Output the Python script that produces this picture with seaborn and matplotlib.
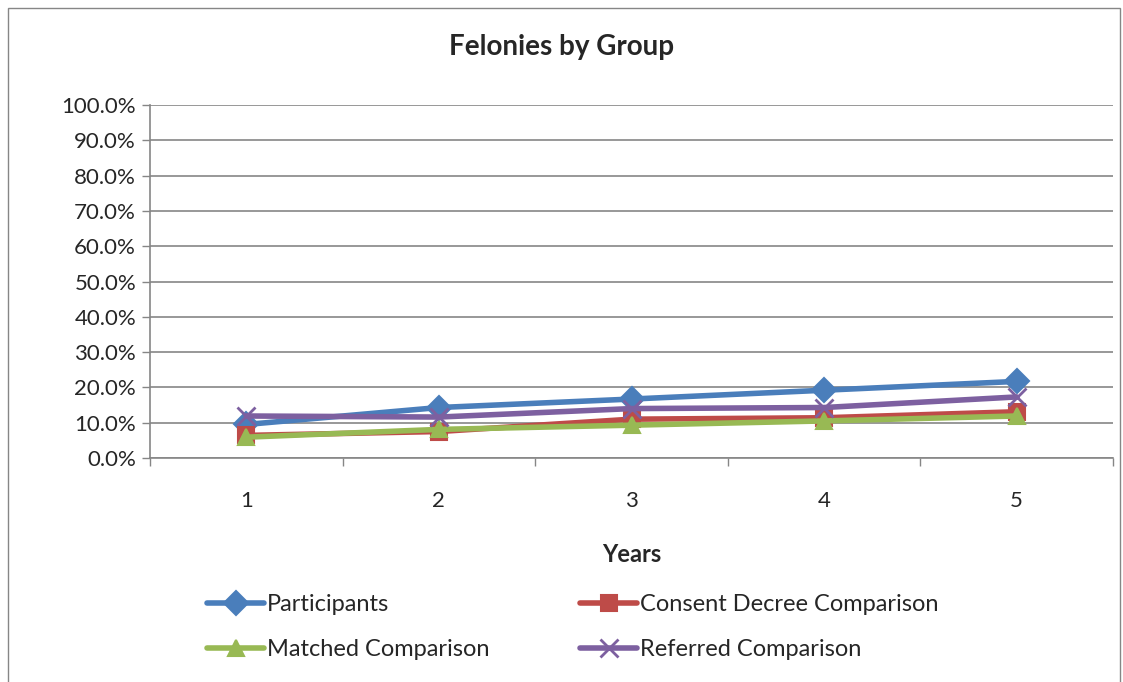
import matplotlib
matplotlib.use("Agg")
import matplotlib.pyplot as plt
import seaborn as sns
import pandas as pd
from matplotlib.patches import Rectangle
from matplotlib.lines import Line2D

years = [1, 2, 3, 4, 5]
participants = [0.095, 0.143, 0.167, 0.192, 0.217]
consent = [0.064, 0.075, 0.110, 0.114, 0.131]
matched = [0.059, 0.081, 0.093, 0.105, 0.119]
referred = [0.119, 0.116, 0.140, 0.143, 0.173]
series_names = ["Participants", "Consent Decree Comparison", "Matched Comparison", "Referred Comparison"]
colors = ["#4A7EBB", "#BE4B48", "#98B954", "#7D60A0"]
markers = ["D", "s", "^", "x"]
yticks = [i / 10 for i in range(11)]

sns.set_theme(style="white")
plt.rcParams['font.family'] = ['Lato', 'DejaVu Sans']

fig = plt.figure(figsize=(11.23, 6.82), dpi=100)
ax = fig.add_axes([150 / 1123, 1 - 458 / 682, (1113 - 150) / 1123, (458 - 105) / 682])

for name, vals, c, m in zip(series_names, [participants, consent, matched, referred], colors, markers):
    d = pd.DataFrame({"pos": list(range(len(years))), "value": vals})
    is_x = (m == "x")
    sns.lineplot(data=d, x="pos", y="value", color=c, marker=m, linewidth=4,
                 markersize=13 if is_x else 12, markeredgewidth=2 if is_x else 1.5,
                 markeredgecolor=c, ax=ax, legend=False)

ax.set_xlim(-0.5, 4.5)
ax.set_ylim(0, 1.0)
ax.set_yticks(yticks)
ax.set_yticklabels([f"{t*100:.1f}%" for t in yticks], fontsize=16)
ax.set_xticks(range(5))
ax.set_xticklabels([str(y) for y in years], fontsize=16)
ax.set_xticks([i - 0.5 for i in range(6)], minor=True)
ax.tick_params(axis="x", which="major", length=0, pad=24)
ax.tick_params(axis="x", which="minor", length=6, color="#868686", width=1, direction="out", bottom=True)
ax.tick_params(axis="y", which="major", length=6, color="#868686", width=1, direction="out", left=True, pad=4)
ax.grid(axis="y", color="#868686", linewidth=1.2)
ax.set_axisbelow(True)
for s in ["top", "right"]:
    ax.spines[s].set_visible(False)
for s in ["left", "bottom"]:
    ax.spines[s].set_color("#868686")
    ax.spines[s].set_linewidth(1.2)
ax.set_xlabel("Years", fontsize=17, fontweight="bold", labelpad=23)
ax.set_ylabel("")
fig.text(0.5, 1 - 47 / 682, "Felonies by Group", ha="center", va="center", fontsize=20, fontweight="bold")

handles = [Line2D([0], [0], color=c, marker=m, linewidth=4, markersize=12 if m != "x" else 13,
                  markeredgewidth=2 if m == "x" else 1.5, markeredgecolor=c) for c, m in zip(colors, markers)]
order = [0, 2, 1, 3]
leg = fig.legend([handles[i] for i in order], [series_names[i] for i in order],
                 ncol=2, loc="center left", bbox_to_anchor=(186 / 1123, 1 - 627 / 682),
                 frameon=False, fontsize=17, handlelength=2.4, handletextpad=0.13,
                 columnspacing=3.85, labelspacing=1.0)

fig.patches.append(Rectangle((8 / 1123, -0.01), (1120 - 8) / 1123, 1 - 8 / 682 + 0.01,
                             transform=fig.transFigure, fill=False, edgecolor="#868686", linewidth=1))
fig.savefig("out.png", dpi=100)
